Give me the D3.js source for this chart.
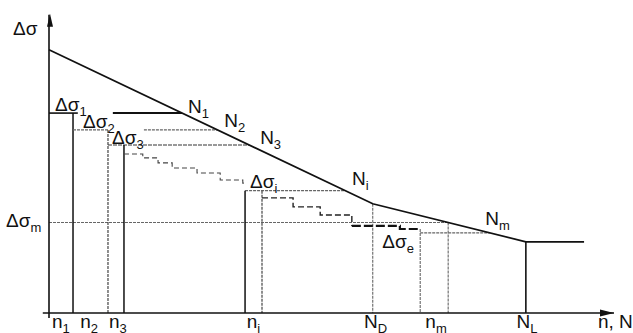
<!DOCTYPE html>
<html>
<head>
<meta charset="utf-8">
<script src="https://cdn.jsdelivr.net/npm/d3@7"></script>
<style>
  body { margin: 0; background: #fff; }
  text { font-family: "Liberation Sans", Arial, sans-serif; fill: #111; }
</style>
</head>
<body>
<svg id="chart" width="633" height="333"></svg>
<script>
// S-N curve in chart units: [n, Δσ]
const curve = [[0, 94], [57.3, 39], [84.4, 25.4], [94.7, 25.4]];
const ND = 57.3, NL = 84.4;

// stress blocks of the spectrum: level and left/right edges
const blocks = [
  { sub: "1", level: 71.4, n0: 0, n1: 4.25 },
  { sub: "2", level: 65.4, n0: 4.25, n1: 10.44 },
  { sub: "3", level: 60, n0: 10.44, n1: 13.27 },
  { sub: "i", level: 43.7, n0: 34.7, n1: 37.7 }
];

// stepped (dashed) remainder of the spectrum
const stepsA = [[13.27, 56.8], [16.6, 55.4], [19.3, 53.6], [21.8, 51.8], [26.2, 50], [30.3, 47.5], [34.3, 46.4], [34.7, 46.4]];
const stepsB = [[37.7, 41.1], [43.2, 37.9], [48, 35], [53.6, 31.1], [62.1, 30], [65.7, 30]];

const dsM = 32.3;   // Δσm
const dsE = 28.6;   // Δσe
const nE = 65.7;    // left edge of Δσe block

// axis labels: [main, subscript, n]
const xLabels = [["n", "1", 2.1], ["n", "2", 7.1], ["n", "3", 12.2], ["n", "i", 36.2],
                 ["N", "D", 57.8], ["n", "m", 68.5], ["N", "L", 84.6]];

// ---------------------------------------------------------------
const svg = d3.select("#chart");
const x = d3.scaleLinear().domain([0, 100]).range([49, 614]);
const y = d3.scaleLinear().domain([0, 100]).range([313, 33]);

// n where the S-N curve reaches a stress level
function nAt(s) {
  for (let i = 0; i < curve.length - 1; i++) {
    const [a, sa] = curve[i], [b, sb] = curve[i + 1];
    if ((s <= sa && s >= sb) && sa !== sb) return a + (sa - s) / (sa - sb) * (b - a);
  }
  return curve[curve.length - 1][0];
}

const line = d3.line().x(d => x(d[0])).y(d => y(d[1]));
const step = d3.line().x(d => x(d[0])).y(d => y(d[1])).curve(d3.curveStepAfter);

function seg(n0, s0, n1, s1, opts) {
  const l = svg.append("line")
    .attr("x1", x(n0)).attr("y1", y(s0))
    .attr("x2", x(n1)).attr("y2", y(s1))
    .attr("stroke", opts.stroke || "#111")
    .attr("stroke-width", opts.w || 1.4);
  if (opts.dash) l.attr("stroke-dasharray", opts.dash);
  return l;
}

function label(px, py, main, sub, anchor) {
  const t = svg.append("text").attr("x", px).attr("y", py)
    .attr("font-size", 19).attr("text-anchor", anchor || "start");
  t.append("tspan").text(main);
  if (sub) t.append("tspan").attr("font-size", 13).attr("dy", 5).text(sub);
  return t;
}

const dotted = { stroke: "#666", w: 1.1, dash: "3,1" };

// reference lines Δσm and Δσe
seg(0, dsM, nAt(dsM), dsM, dotted);
seg(nE, dsE, nAt(dsE), dsE, dotted);

// verticals at ND, n_m
seg(ND, curve[1][1], ND, 0, dotted);
seg(nAt(dsM), dsM, nAt(dsM), 0, dotted);
seg(nE, 30, nE, 0, dotted);

// blocks
blocks.forEach((b, i) => {
  const Nb = nAt(b.level);
  const style = i === 0 ? { w: 1.6 } : (i === 2 ? { stroke: "#333", w: 1.2, dash: "4,1" } : dotted);
  // horizontal from block to curve, with gaps where labels sit
  if (i === 0) {
    seg(b.n0, b.level, 5.1, b.level, style);
    seg(11.3, b.level, Nb, b.level, { w: 2 });
  } else if (i === 1) {
    seg(b.n0, b.level, b.n1, b.level, style);
    seg(16.8, b.level, Nb, b.level, style);
  } else {
    seg(b.n0, b.level, Nb, b.level, style);
  }
  // right edge
  seg(b.n1, b.level, b.n1, 0, (i === 1 || i === 3) ? { stroke: "#444", w: 1.2, dash: "3,1" } : { w: 1.5 });
  // left edge of isolated block
  if (i === 3) seg(b.n0, b.level, b.n0, 0, { w: 1.5 });
});

// stepped dashed spectrum
svg.append("path").attr("d", step(stepsA)).attr("fill", "none")
  .attr("stroke", "#444").attr("stroke-width", 1.1).attr("stroke-dasharray", "5,3");
svg.append("path").attr("d", step(stepsB.slice(0, 4))).attr("fill", "none")
  .attr("stroke", "#222").attr("stroke-width", 1.4).attr("stroke-dasharray", "6,3");
svg.append("path").attr("d", step(stepsB.slice(3))).attr("fill", "none")
  .attr("stroke", "#111").attr("stroke-width", 2.2).attr("stroke-dasharray", "9,3");

// S-N curve
svg.append("path").attr("d", line(curve)).attr("fill", "none")
  .attr("stroke", "#111").attr("stroke-width", 1.7);
seg(NL, curve[2][1], NL, 0, { w: 1.6 });

// axes with arrows
seg(-1.1, 0, 100, 0, { w: 1.6 });
svg.append("path").attr("d", `M${x(100)},${y(0)} L${x(100) - 14},${y(0) - 3.5} L${x(100) - 14},${y(0) + 3.5} Z`).attr("fill", "#111");
seg(0, -1.8, 0, 106.5, { w: 1.6 });
svg.append("path").attr("d", `M${x(0) + 1},${y(106.5) - 1} L${x(0) - 2},${y(106.5) + 12} L${x(0) + 4},${y(106.5) + 12} Z`).attr("fill", "#111");

// annotations
label(13, 35, "Δσ");
const offs = [[6, -2], [10, -2], [4, -1], [5, -3]];
const nOffs = [[6, 0], [7, -3], [11, -1], [7, -6]];
blocks.forEach((b, i) => {
  label(x(b.n0) + offs[i][0], y(b.level) + offs[i][1], "Δσ", b.sub);
  label(x(nAt(b.level)) + nOffs[i][0], y(b.level) + nOffs[i][1], "N", b.sub);
});
label(x(0) - 43, y(dsM) + 4, "Δσ", "m");
label(x(nE) - 38, y(dsE) + 15, "Δσ", "e");
label(x(nAt(dsM)) + 37, y(dsM) + 2, "N", "m");

xLabels.forEach(d => label(x(d[2]), 328, d[0], d[1], "middle"));
label(598, 328, "n, N");
</script>
</body>
</html>
